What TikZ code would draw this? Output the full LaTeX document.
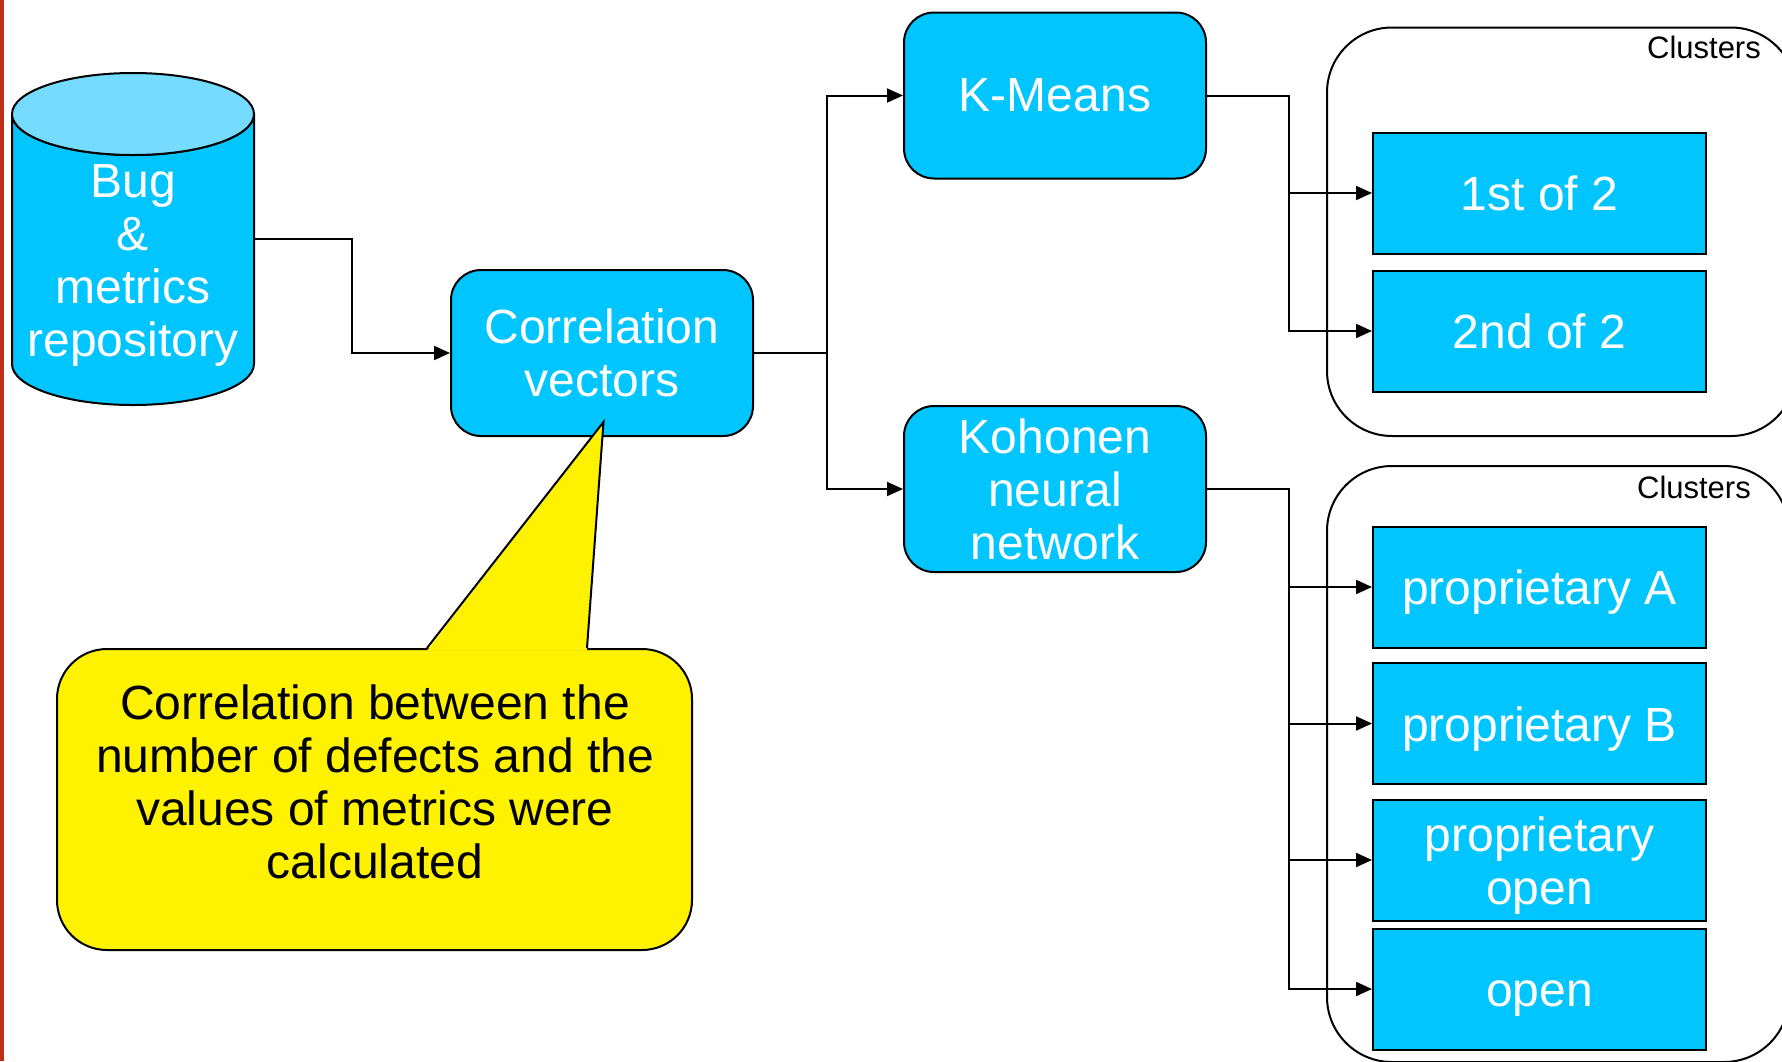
\documentclass[tikz,border=0pt]{standalone}
\usepackage{fontspec}
\setmainfont{Liberation Sans}
\usepackage{tikz}
\usetikzlibrary{arrows.meta,calc}
\pgfdeclarelayer{background}
\pgfdeclarelayer{foreground}
\pgfsetlayers{background,main,foreground}
\definecolor{boxblue}{RGB}{0,197,255}
\definecolor{toplight}{RGB}{117,219,255}
\definecolor{railred}{RGB}{192,48,24}
\newcommand{\boxfont}{\fontsize{48}{53}\selectfont}
\newcommand{\tagfont}{\fontsize{31}{34}\selectfont}

\begin{document}
\begin{tikzpicture}[x=1pt,y=-1pt,
  procbox/.style={draw=black,line width=2pt,fill=boxblue,rounded corners=30pt,
    minimum width=302pt,minimum height=166pt,inner sep=0pt,align=center,
    text=white,font=\boxfont},
  clusterbox/.style={draw=black,line width=2pt,fill=boxblue,minimum width=333pt,
    minimum height=121pt,inner sep=0pt,align=center,text=white,font=\boxfont,
    text height=35pt,text depth=0pt},
  groupframe/.style={draw=black,line width=2pt,rounded corners=65pt},
  notebox/.style={draw=black,line width=2pt,fill=yellow,rounded corners=50pt,
    minimum width=635pt,minimum height=301pt,inner sep=0pt},
  link/.style={line width=2pt,-{Triangle[length=16pt,width=14pt]}}]

\useasboundingbox (0,0) rectangle (1782,1061);
\clip (0,0) rectangle (1782,1061);
\fill[railred] (0,0) rectangle (4,1061);

% repository
\draw[line width=2pt,fill=boxblue] (12,114) -- (12,364)
  arc[start angle=180,end angle=0,x radius=121,y radius=41] -- (254,114)
  arc[start angle=0,end angle=180,x radius=121,y radius=41] -- cycle;
\draw[line width=2pt,fill=toplight] (133,114) ellipse[x radius=121,y radius=41];
\node[font=\boxfont,text=white,align=center] (repo) at (133,265) {Bug\\\&\\metrics\\repository};
\coordinate (repoout) at (254,239);

\node[procbox] (corr) at (602,353) {Correlation\\vectors};
\node[procbox] (kmeans) at (1055,95.5) {K-Means};
\node[procbox] (kohonen) at (1055,489) {Kohonen\\neural\\network};

\begin{pgfonlayer}{background}
\draw[groupframe] (1327,27.5) rectangle (1796,436);
\draw[groupframe] (1327,466) rectangle (1789,1062);
\end{pgfonlayer}
\node[anchor=east,inner sep=0pt,font=\tagfont] (tagkm) at (1761,47) {Clusters};
\node[anchor=east,inner sep=0pt,font=\tagfont] (tagko) at (1751,487) {Clusters};

\node[clusterbox] (first) at (1539.5,193) {1st of 2};
\node[clusterbox] (second) at (1539.5,331) {2nd of 2};
\node[clusterbox] (propa) at (1539.5,587) {proprietary A};
\node[clusterbox] (propb) at (1539.5,723.5) {proprietary B};
\node[clusterbox,text height=88pt] (propopen) at (1539.5,860) {proprietary\\open};
\node[clusterbox] (open) at (1539.5,989) {open};

% connectors
\coordinate (bend) at (352,353);
\draw[link] (repoout) -| (bend) -- (corr.west);
\coordinate (split) at (827,353);
\draw[link] (corr.east) -- (split) |- (kmeans.west);
\draw[link] (split) |- (kohonen.west);
\coordinate (kbus) at (1289,95.5);
\draw[link] (kmeans.east) -- (kbus) |- (first.west);
\draw[link] (kbus) |- (second.west);
\coordinate (nbus) at (1289,489);
\draw[link] (kohonen.east) -- (nbus) |- (propa.west);
\foreach \c in {propb,propopen,open}
  \draw[link] (nbus) |- (\c.west);

% callout
\node[notebox] (note) at (374.5,799.5) {};
\node[font=\boxfont,align=center] (notetext) at (375,781.5)
  {Correlation between the\\number of defects and the\\values of metrics were\\calculated};
\begin{pgfonlayer}{foreground}
\fill[yellow] ($(note.north)+(52.5,2.5)$) -- ($(corr.south)+(1.5,-15)$)
  -- ($(note.north)+(212.5,2.5)$) -- cycle;
\draw[line width=2pt] ($(note.north)+(52.5,0)$) -- ($(corr.south)+(1.5,-15)$)
  -- ($(note.north)+(212.5,0)$);
\end{pgfonlayer}

\end{tikzpicture}
\end{document}
